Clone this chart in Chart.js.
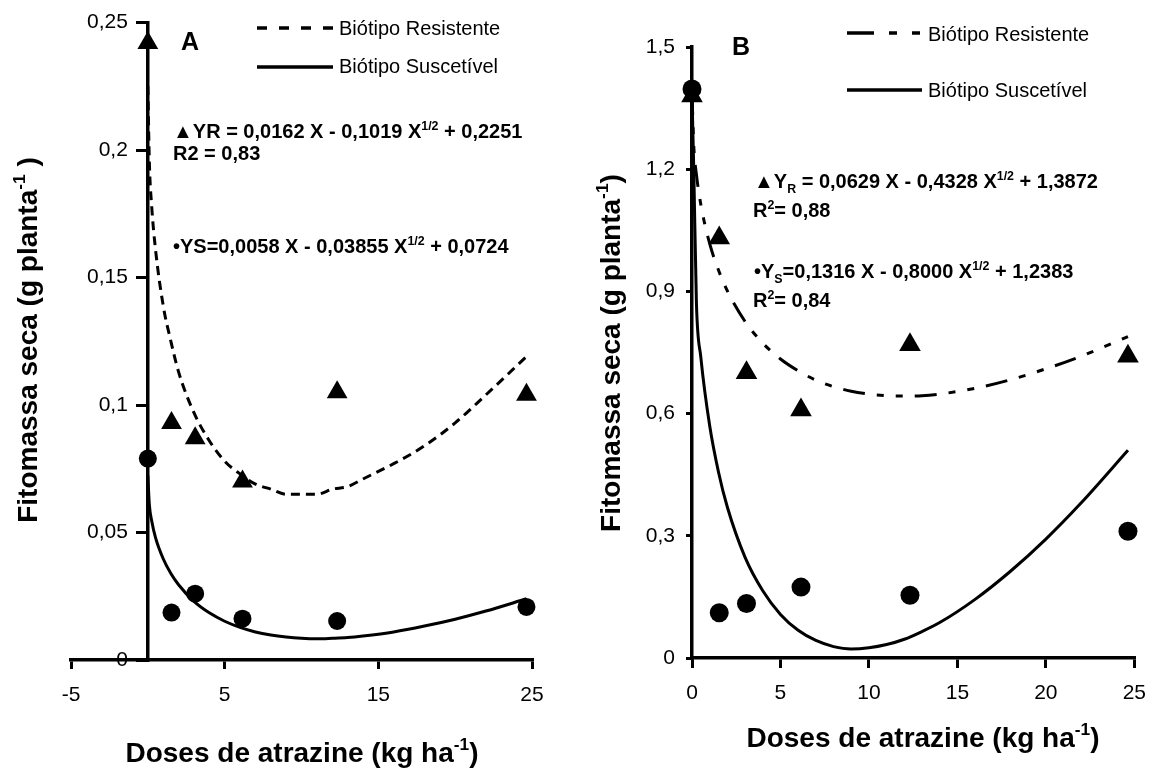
<!DOCTYPE html>
<html>
<head>
<meta charset="utf-8">
<script src="https://cdn.jsdelivr.net/npm/chart.js@4.4.1/dist/chart.umd.min.js"></script>
<style>
html, body { margin: 0; padding: 0; background: #fff; }
#wrap { position: relative; width: 1159px; height: 776px; overflow: hidden; }
canvas { position: absolute; top: 0; }
#chartA { left: 0; }
#chartB { left: 580px; }
</style>
</head>
<body>
<div id="wrap">
  <canvas id="chartA" width="580" height="776"></canvas>
  <canvas id="chartB" width="579" height="776"></canvas>
</div>
<script>
// doses de atrazine (kg ha-1)
const doses = [0, 1.54, 3.08, 6.16, 12.32, 24.64];

// painel A - valores observados
const obsResA = [0.242, 0.093, 0.087, 0.070, 0.105, 0.104];
const obsSusA = [0.079, 0.0186, 0.026, 0.0162, 0.0153, 0.0208];

// painel B - valores observados
const obsResB = [1.38, 1.031, 0.70, 0.609, 0.769, 0.741];
const obsSusB = [1.397, 0.111, 0.134, 0.174, 0.154, 0.311];

// curvas ajustadas
const curveX  = [0, 0.1, 0.25, 0.5, 1, 1.5, 2, 3, 4, 5, 6, 7, 8, 9, 10, 11, 12, 13, 14, 16, 18, 20, 22, 24.64];
const fitResA = [0.225, 0.195, 0.178, 0.161, 0.139, 0.125, 0.113, 0.097, 0.086, 0.078, 0.073, 0.069, 0.067, 0.065, 0.065, 0.065, 0.067, 0.068, 0.071, 0.077, 0.084, 0.093, 0.104, 0.119];
const fitSusA = [0.0724, 0.0608, 0.0546, 0.048, 0.0397, 0.0339, 0.0295, 0.023, 0.0185, 0.0152, 0.0128, 0.011, 0.0098, 0.009, 0.0085, 0.0083, 0.0085, 0.0088, 0.0094, 0.011, 0.0133, 0.016, 0.0192, 0.024];
const fitResB = [1.387, 1.257, 1.187, 1.113, 1.017, 0.952, 0.901, 0.826, 0.773, 0.734, 0.705, 0.682, 0.666, 0.655, 0.648, 0.644, 0.643, 0.644, 0.648, 0.662, 0.683, 0.710, 0.741, 0.789];
const fitSusB = [1.38, 1.2, 0.871, 0.738, 0.570, 0.456, 0.370, 0.247, 0.165, 0.107, 0.068, 0.043, 0.028, 0.022, 0.025, 0.033, 0.046, 0.065, 0.087, 0.144, 0.213, 0.292, 0.381, 0.510];

// rotulos dos eixos
const xTicksA = ['-5', '5', '15', '25'];
const yTicksA = ['0', '0,05', '0,1', '0,15', '0,2', '0,25'];
const xTicksB = ['0', '5', '10', '15', '20', '25'];
const yTicksB = ['0', '0,3', '0,6', '0,9', '1,2', '1,5'];

const serieNames = ['Biótipo Resistente', 'Biótipo Suscetível'];

const FONT = '"Liberation Sans", Arial, Helvetica, sans-serif';

function pts(xs, ys) {
    return xs.map((x, i) => ({ x: x, y: ys[i] }));
}

// texto com sobrescrito / subscrito
function drawRich(ctx, it) {
    const wt = it.bold ? 'bold ' : '';
    const small = it.size * 0.62;
    let w = 0;
    it.runs.forEach(r => {
        ctx.font = wt + (r[1] === 'n' ? it.size : small) + 'px ' + FONT;
        w += ctx.measureText(r[0]).width;
    });
    ctx.save();
    ctx.translate(it.x, it.y);
    if (it.rot) ctx.rotate(-Math.PI / 2);
    let x = it.align === 'center' ? -w / 2 : 0;
    ctx.fillStyle = '#000';
    ctx.textBaseline = 'alphabetic';
    ctx.textAlign = 'left';
    it.runs.forEach(r => {
        ctx.font = wt + (r[1] === 'n' ? it.size : small) + 'px ' + FONT;
        const dy = r[1] === 'sup' ? -it.size * 0.42 : (r[1] === 'sub' ? it.size * 0.24 : 0);
        ctx.fillText(r[0], x, dy);
        x += ctx.measureText(r[0]).width;
    });
    ctx.restore();
}

function annotPlugin(texts, legend) {
    return {
        id: 'annot',
        afterDraw(chart) {
            const ctx = chart.ctx;
            texts.forEach(t => drawRich(ctx, t));
            legend.forEach(l => {
                ctx.save();
                ctx.strokeStyle = '#000';
                ctx.lineWidth = 3.5;
                ctx.setLineDash(l.dash);
                ctx.beginPath();
                ctx.moveTo(l.x1, l.y);
                ctx.lineTo(l.x2, l.y);
                ctx.stroke();
                ctx.restore();
                ctx.fillStyle = '#000';
                ctx.font = '20px ' + FONT;
                ctx.textBaseline = 'alphabetic';
                ctx.textAlign = 'left';
                ctx.fillText(l.text, l.x2 + 6, l.base);
            });
        }
    };
}

function axisCfg(min, max, step, labels, pos, tickLen, pad, fit) {
    return {
        type: 'linear', min: min, max: max, position: pos,
        ticks: {
            stepSize: step, color: '#000', padding: pad,
            font: { family: FONT, size: 21 },
            callback: (v, i) => labels[i]
        },
        grid: { drawOnChartArea: false, drawTicks: true, tickLength: tickLen, lineWidth: 3, tickWidth: 3, tickColor: '#000', color: '#000' },
        border: { display: true, color: '#000', width: 3.5 },
        afterFit: fit
    };
}

// eixo y posicionado em x = 0: o Chart.js ignora o padding dos rotulos, entao desloca-se aqui
function shiftLabels(dx) {
    return scale => {
        const orig = Object.getPrototypeOf(scale)._computeLabelItems;
        scale._computeLabelItems = function (area) {
            const items = orig.call(this, area);
            items.forEach(it => { it.options.translation[0] += dx; });
            return items;
        };
    };
}

function makeDatasets(obsR, obsS, fitR, fitS, rTri, rCir, dashR) {
    return [
        { label: 'obsR', data: pts(doses, obsR), pointStyle: 'triangle', pointRadius: rTri, backgroundColor: '#000', borderColor: '#000', borderWidth: 0, showLine: false, clip: false },
        { label: 'obsS', data: pts(doses, obsS), pointStyle: 'circle', pointRadius: rCir, backgroundColor: '#000', borderColor: '#000', borderWidth: 0, showLine: false, clip: false },
        { label: serieNames[0], data: pts(curveX, fitR), showLine: true, pointRadius: 0, borderColor: '#000', borderWidth: 3, borderDash: dashR, cubicInterpolationMode: 'monotone', fill: false, clip: false },
        { label: serieNames[1], data: pts(curveX, fitS), showLine: true, pointRadius: 0, borderColor: '#000', borderWidth: 3, cubicInterpolationMode: 'monotone', fill: false, clip: false }
    ];
}

const common = {
    responsive: false,
    animation: false,
    devicePixelRatio: 1,
    plugins: { legend: { display: false }, tooltip: { enabled: false } }
};

// ---------- painel A ----------
const textsA = [
    { runs: [['A', 'n']], x: 181, y: 50, size: 25, bold: true },
    { runs: [['▲YR = 0,0162 X - 0,1019 X', 'n'], ['1/2', 'sup'], [' + 0,2251', 'n']], x: 173, y: 138, size: 20, bold: true },
    { runs: [['R2 = 0,83', 'n']], x: 173, y: 160, size: 20, bold: true },
    { runs: [['•YS=0,0058 X - 0,03855 X', 'n'], ['1/2', 'sup'], [' + 0,0724', 'n']], x: 173, y: 253, size: 20, bold: true },
    { runs: [['Doses de atrazine (kg ha', 'n'], ['-1', 'sup'], [')', 'n']], x: 302, y: 762, size: 28, bold: true, align: 'center' },
    { runs: [['Fitomassa seca (g planta', 'n'], ['-1', 'sup'], [' )', 'n']], x: 37, y: 340, size: 28, bold: true, align: 'center', rot: true }
];
const legendA = [
    { x1: 257, x2: 333, y: 28, base: 35, dash: [10, 12], text: serieNames[0] },
    { x1: 257, x2: 333, y: 67, base: 73, dash: [], text: serieNames[1] }
];

const yA = axisCfg(0, 0.25, 0.05, yTicksA, { x: 0 }, 10, 10, s => { s.width = 0; });
yA.afterUpdate = shiftLabels(-20);

new Chart(document.getElementById('chartA'), {
    type: 'scatter',
    data: { datasets: makeDatasets(obsResA, obsSusA, fitResA, fitSusA, 12, 9, [9, 6]) },
    options: Object.assign({}, common, {
        layout: { padding: { left: 71, right: 48, top: 18, bottom: 0 } },
        scales: {
            x: axisCfg(-5, 25, 10, xTicksA, 'bottom', 9, 14, s => { s.height = 116; }),
            y: yA
        }
    }),
    plugins: [annotPlugin(textsA, legendA)]
});

// ---------- painel B ----------
const textsB = [
    { runs: [['B', 'n']], x: 152, y: 55, size: 25, bold: true },
    { runs: [['▲Y', 'n'], ['R', 'sub'], [' = 0,0629 X - 0,4328 X', 'n'], ['1/2', 'sup'], [' + 1,3872', 'n']], x: 174, y: 188, size: 20, bold: true },
    { runs: [['R', 'n'], ['2', 'sup'], ['= 0,88', 'n']], x: 173, y: 217, size: 20, bold: true },
    { runs: [['•Y', 'n'], ['S', 'sub'], ['=0,1316 X - 0,8000 X', 'n'], ['1/2', 'sup'], [' + 1,2383', 'n']], x: 174, y: 278, size: 20, bold: true },
    { runs: [['R', 'n'], ['2', 'sup'], ['= 0,84', 'n']], x: 173, y: 307, size: 20, bold: true },
    { runs: [['Doses de atrazine (kg ha', 'n'], ['-1', 'sup'], [')', 'n']], x: 343, y: 747, size: 28, bold: true, align: 'center' },
    { runs: [['Fitomassa seca (g planta', 'n'], ['-1', 'sup'], [')', 'n']], x: 40, y: 353, size: 28, bold: true, align: 'center', rot: true }
];
const legendB = [
    { x1: 267, x2: 342, y: 33, base: 41, dash: [27, 15, 8, 15, 8, 15], text: serieNames[0] },
    { x1: 267, x2: 342, y: 90, base: 97, dash: [], text: serieNames[1] }
];

new Chart(document.getElementById('chartB'), {
    type: 'scatter',
    data: { datasets: makeDatasets(obsResB, obsSusB, fitResB, fitSusB, 12.5, 9.5, [22, 12, 7, 12, 7, 12]) },
    options: Object.assign({}, common, {
        layout: { padding: { left: 0, right: 19, top: 47, bottom: 0 } },
        scales: {
            x: axisCfg(0, 25, 5, xTicksB, 'bottom', 10, 13, s => { s.height = 118; }),
            y: axisCfg(0, 1.5, 0.3, yTicksB, 'left', 6, 11, s => { s.width = 112; })
        }
    }),
    plugins: [annotPlugin(textsB, legendB)]
});
</script>
</body>
</html>
